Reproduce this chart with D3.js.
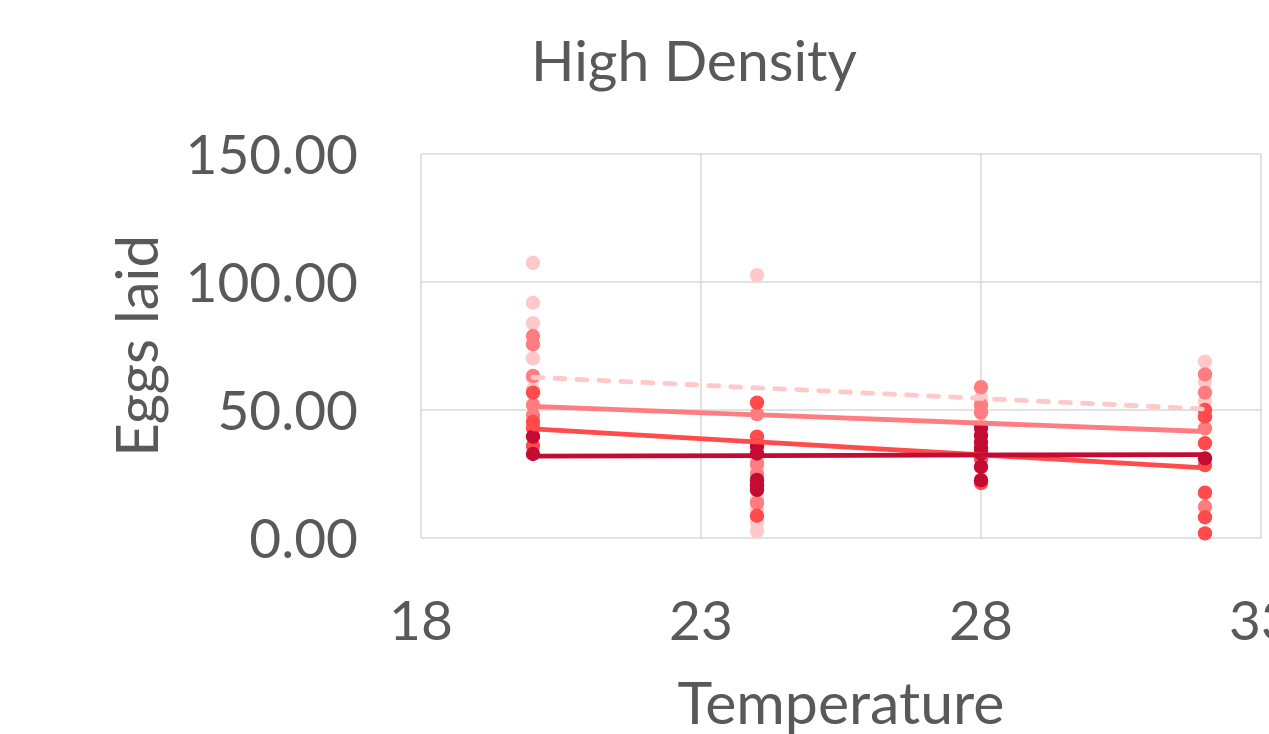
<!DOCTYPE html>
<html>
<head>
<meta charset="utf-8">
<script src="https://cdn.jsdelivr.net/npm/d3@7"></script>
<style>
  body { margin: 0; background: #fff; }
  text { font-family: Lato, "Open Sans", sans-serif; fill: #595959; }
</style>
</head>
<body>
<div class="canvas"></div>
<script>
// temperatures where eggs were counted
const temperatures = [20, 24, 28, 32];

// eggs laid per replicate, one inner array per temperature
const palePoints = [
    [107.5, 91.9, 83.9, 70.2, 62.5, 58],
    [102.7, 31, 27, 23, 19, 15, 11, 6, 2.7],
    [54.7, 50, 44],
    [68.9, 61, 53.2]
];
const salmonPoints = [
    [78.9, 75.7, 63.3, 52, 48],
    [48.4, 29, 25, 13.7],
    [58.9, 52, 49],
    [63.9, 56.8, 42.8, 12.2]
];
const redPoints = [
    [56.8, 45.4, 43, 36],
    [52.9, 39.6, 8.7],
    [31, 21.5],
    [50, 47.4, 37, 28.5, 17.7, 8.1, 1.8]
];
const crimsonPoints = [
    [39.6, 32.8],
    [35.7, 33, 22.7, 20.6, 18.8],
    [43, 40, 37.5, 35, 33, 27.8, 22.6],
    [31.1]
];

// linear trendlines: value at 20 and at 32
const trendStart = [62.8, 51.4, 42.6, 32.0];
const trendEnd = [50.4, 41.6, 27.4, 32.6];

const xTicks = [18, 23, 28, 33];
const yTicks = [0, 50, 100, 150];

const seriesColors = ['#ffc9c9', '#ff7c80', '#ff4b4b', '#c30b33'];
const allSeries = [palePoints, salmonPoints, redPoints, crimsonPoints];

const dims = { width: 1269, height: 734 };
const plot = { left: 421, right: 1261, top: 154, bottom: 538 };

const svg = d3.select('.canvas').append('svg')
    .attr('width', dims.width)
    .attr('height', dims.height);

const x = d3.scaleLinear().domain([18, 33]).range([plot.left, plot.right]);
const y = d3.scaleLinear().domain([0, 150]).range([plot.bottom, plot.top]);

// gridlines
svg.append('g')
    .selectAll('line.vgrid')
    .data(xTicks)
    .enter().append('line')
    .attr('x1', d => x(d)).attr('x2', d => x(d))
    .attr('y1', plot.top).attr('y2', plot.bottom)
    .attr('stroke', '#d9d9d9').attr('stroke-width', 1.5);

svg.append('g')
    .selectAll('line.hgrid')
    .data(yTicks)
    .enter().append('line')
    .attr('x1', plot.left).attr('x2', plot.right)
    .attr('y1', d => y(d)).attr('y2', d => y(d))
    .attr('stroke', '#d9d9d9').attr('stroke-width', 1.5);

// tick labels
svg.append('g')
    .selectAll('text')
    .data(yTicks)
    .enter().append('text')
    .attr('x', 358)
    .attr('y', d => y(d) + 20)
    .attr('text-anchor', 'end')
    .style('font-size', '55px')
    .text(d => d.toFixed(2));

svg.append('g')
    .selectAll('text')
    .data(xTicks)
    .enter().append('text')
    .attr('x', d => x(d))
    .attr('y', 640)
    .attr('text-anchor', 'middle')
    .style('font-size', '55px')
    .text(d => d);

// titles
svg.append('text')
    .attr('x', 694).attr('y', 81)
    .attr('text-anchor', 'middle')
    .style('font-size', '57px')
    .text('High Density');

svg.append('text')
    .attr('x', 841).attr('y', 724)
    .attr('text-anchor', 'middle')
    .style('font-size', '59px')
    .text('Temperature');

svg.append('text')
    .attr('transform', 'translate(158,346) rotate(-90)')
    .attr('text-anchor', 'middle')
    .style('font-size', '58px')
    .text('Eggs laid');

// points
allSeries.forEach((series, i) => {
    const flat = [];
    series.forEach((vals, t) => vals.forEach(v => flat.push({ t: temperatures[t], v })));
    svg.append('g')
        .selectAll('circle')
        .data(flat)
        .enter().append('circle')
        .attr('cx', d => x(d.t))
        .attr('cy', d => y(d.v))
        .attr('r', 7.2)
        .attr('fill', seriesColors[i]);
});

// trendlines
const firstT = d3.min(temperatures), lastT = d3.max(temperatures);
trendStart.forEach((s, i) => {
    svg.append('line')
        .attr('x1', x(firstT)).attr('y1', y(s))
        .attr('x2', x(lastT)).attr('y2', y(trendEnd[i]))
        .attr('stroke', seriesColors[i])
        .attr('stroke-width', 4.8)
        .attr('stroke-linecap', 'round')
        .attr('stroke-dasharray', i === 0 ? '10,12' : null);
});
</script>
</body>
</html>
